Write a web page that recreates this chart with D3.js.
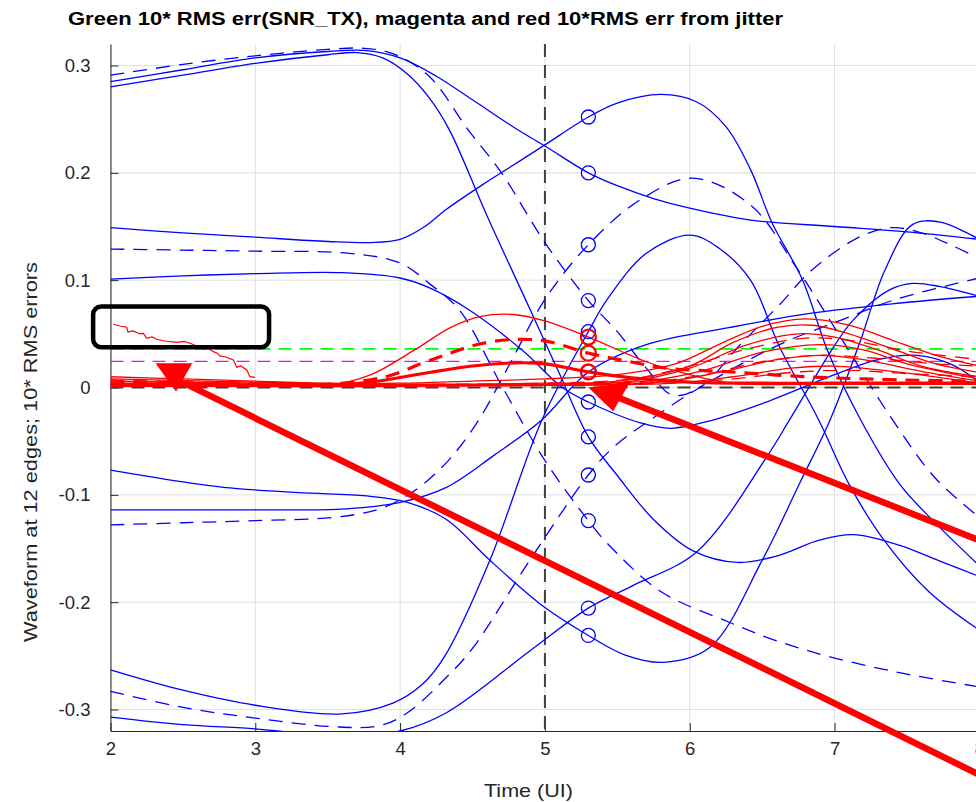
<!DOCTYPE html>
<html>
<head>
<meta charset="utf-8">
<script src="https://cdn.jsdelivr.net/npm/d3@7"></script>
<style>
  body { margin: 0; background: #fff; }
  svg { display: block; font-family: "Liberation Sans", Arial, sans-serif; }
</style>
</head>
<body>
<svg id="chart" width="976" height="802"></svg>
<script>
// ---- data ----
const xTicks = [2, 3, 4, 5, 6, 7, 8];
const yTicks = [-0.3, -0.2, -0.1, 0, 0.1, 0.2, 0.3];
const yTickLabels = ["-0.3", "-0.2", "-0.1", "0", "0.1", "0.2", "0.3"];
const sampleX = 5.3;     // circles sit here
const refX = 5;          // black dashed vertical
const greenLevel = 0.036;
const magentaLevel = 0.0244;

// 12 edges, blue. [time, value]
const edge01 = [[2,0.291],[2.5,0.301],[3,0.309],[3.5,0.315],[3.75,0.316],[3.95,0.311],[4.2,0.29],[4.47,0.24],[4.7,0.2],[5,0.135],[5.3,0.081],[5.5,0.052],[5.7,0.018],[5.88,-0.007],[6.07,0.0],[6.35,0.04],[6.64,0.08],[6.8,0.104],[7.0,0.126],[7.2,0.142],[7.4,0.149],[7.6,0.144],[7.8,0.133],[8,0.12]];
const edge02 = [[2,0.285],[2.5,0.296],[3,0.307],[3.5,0.313],[3.75,0.314],[4,0.307],[4.25,0.29],[4.5,0.268],[4.79,0.242],[5,0.225],[5.3,0.2],[5.5,0.188],[5.75,0.176],[6,0.167],[6.42,0.156],[7,0.15],[7.5,0.145],[8,0.138]];
const edge03 = [[2,0.28],[2.5,0.291],[3,0.302],[3.5,0.31],[3.7,0.312],[3.88,0.307],[4.05,0.292],[4.2,0.27],[4.34,0.24],[4.6,0.16],[4.9,0.072],[5.1,0.013],[5.3,-0.046],[5.5,-0.082],[5.75,-0.123],[6.02,-0.152],[6.33,-0.163],[6.6,-0.157],[6.9,-0.142],[7.13,-0.137],[7.45,-0.147],[7.75,-0.163],[8,-0.176]];
const edge04 = [[2,0.149],[2.5,0.144],[3,0.14],[3.5,0.136],[3.8,0.135],[4,0.138],[4.16,0.149],[4.32,0.166],[4.57,0.189],[4.78,0.207],[5,0.226],[5.3,0.252],[5.5,0.265],[5.8,0.273],[6.05,0.266],[6.25,0.243],[6.42,0.203],[6.57,0.153],[6.78,0.1],[6.95,0.035],[7.18,-0.03],[7.45,-0.09],[7.68,-0.124],[8,-0.166]];
const edge05 = [[2,0.129],[2.5,0.128],[3,0.127],[3.65,0.125],[4,0.116],[4.2,0.097],[4.41,0.072],[4.7,0.002],[5.0,-0.068],[5.3,-0.124],[5.43,-0.145],[5.8,-0.19],[6.26,-0.218],[6.6,-0.236],[7.0,-0.252],[7.5,-0.267],[8,-0.279]];
const edge06 = [[2,0.101],[2.5,0.104],[3,0.106],[3.6,0.107],[4,0.102],[4.2,0.093],[4.48,0.072],[4.85,0.034],[5.12,0.0],[5.3,-0.0135],[5.66,-0.033],[5.87,-0.038],[6.14,-0.031],[6.5,-0.015],[7.0,0.012],[7.3,0.026],[7.57,0.03],[7.8,0.022],[8,0.005]];
const edge07 = [[2,-0.077],[2.5,-0.088],[2.78,-0.093],[3.3,-0.098],[3.77,-0.101],[4.05,-0.107],[4.32,-0.123],[4.62,-0.161],[5,-0.205],[5.3,-0.231],[5.55,-0.249],[5.82,-0.256],[6.14,-0.242],[6.5,-0.161],[6.76,-0.089],[6.97,-0.03],[7.18,0.044],[7.35,0.11],[7.54,0.152],[7.73,0.154],[8,0.138]];
const edge08 = [[2,-0.114],[2.5,-0.114],[3,-0.114],[3.63,-0.113],[4,-0.107],[4.32,-0.093],[4.65,-0.063],[4.98,-0.03],[5.3,0.0145],[5.7,0.04],[6.28,0.056],[6.83,0.069],[7.4,0.078],[8,0.085]];
const edge09 = [[2,-0.128],[2.5,-0.126],[3,-0.124],[3.54,-0.121],[3.86,-0.113],[4.09,-0.097],[4.32,-0.07],[4.53,-0.033],[4.75,0.02],[5,0.082],[5.3,0.133],[5.66,0.175],[6.02,0.195],[6.42,0.17],[6.74,0.111],[7.05,0.045],[7.4,-0.03],[7.7,-0.085],[8,-0.121]];
const edge10 = [[2,-0.263],[2.5,-0.282],[3,-0.296],[3.6,-0.304],[3.95,-0.294],[4.15,-0.277],[4.31,-0.25],[4.62,-0.161],[4.98,-0.03],[5.3,0.052],[5.43,0.082],[5.7,0.125],[6.0,0.142],[6.2,0.13],[6.42,0.1],[6.62,0.038],[6.89,-0.03],[7.1,-0.09],[7.33,-0.14],[7.65,-0.19],[8,-0.226]];
const edge11 = [[2,-0.283],[2.5,-0.298],[3,-0.308],[3.54,-0.316],[3.86,-0.315],[4.05,-0.303],[4.32,-0.27],[4.5,-0.243],[4.9,-0.16],[5.3,-0.0815],[5.47,-0.056],[5.73,-0.03],[6.07,0.0],[6.62,0.04],[7.05,0.063],[7.42,0.082],[8,0.102]];
const edge12 = [[2,-0.307],[2.5,-0.314],[3,-0.318],[3.3,-0.322],[3.6,-0.325],[4,-0.32],[4.32,-0.303],[4.9,-0.245],[5.3,-0.2055],[5.6,-0.185],[6.05,-0.153],[6.53,-0.065],[6.69,-0.03],[6.99,0.037],[7.13,0.063],[7.38,0.091],[7.54,0.097],[7.73,0.094],[8,0.085]];
const dashedEdges = [edge01, edge05, edge09, edge11];
const solidEdges = [edge02, edge03, edge04, edge06, edge07, edge08, edge10, edge12];

// red: 10*RMS error from jitter
const jitterThick = [[2,0.003],[3,0.002],[3.5,0.002],[3.8,0.005],[4.2,0.014],[4.5,0.02],[4.8,0.023],[5.0,0.022],[5.3,0.0145],[5.6,0.009],[6,0.005],[6.5,0.004],[7,0.004],[7.5,0.004],[8,0.004]];
const jitterThickDash = [[2,0.003],[3,0.003],[3.5,0.003],[3.9,0.01],[4.2,0.025],[4.6,0.042],[4.97,0.044],[5.3,0.032],[5.59,0.024],[5.84,0.018],[6.28,0.0145],[6.8,0.01],[7.5,0.007],[8,0.006]];
const jitterTop = [[2,0.006],[3,0.003],[3.5,0.002],[3.8,0.012],[4.1,0.035],[4.35,0.056],[4.55,0.066],[4.78,0.068],[5.0,0.062],[5.3,0.047],[5.7,0.024],[5.93,0.0145],[6.28,0.004],[6.8,0.003],[8,0.003]];
const jitterA = [[2,0.010],[2.5,0.008],[3,0.006],[3.5,0.004],[4,0.004],[4.5,0.006],[5,0.008],[5.5,0.012],[5.9,0.022],[6.2,0.04],[6.5,0.057],[6.8,0.064],[7.1,0.058],[7.4,0.044],[7.7,0.03],[8,0.02]];
const jitterB = [[2,0.008],[3,0.005],[4,0.003],[5,0.004],[5.5,0.006],[6,0.02],[6.3,0.042],[6.6,0.056],[6.85,0.058],[7.1,0.05],[7.4,0.036],[7.7,0.022],[8,0.014]];
const jitterC = [[2,0.006],[3,0.004],[4,0.003],[5,0.003],[5.6,0.006],[6.0,0.018],[6.4,0.04],[6.75,0.05],[7.0,0.047],[7.3,0.035],[7.6,0.02],[8,0.01]];
const jitterD = [[2,0.004],[3,0.003],[4,0.002],[5,0.003],[5.7,0.006],[6.1,0.016],[6.5,0.033],[6.9,0.04],[7.2,0.035],[7.5,0.022],[8,0.008]];
const jitterE = [[2,0.002],[3,0.002],[4,0.002],[5,0.002],[5.8,0.005],[6.2,0.014],[6.6,0.026],[6.9,0.03],[7.2,0.026],[7.6,0.015],[8,0.006]];
const jitterF = [[2,0.001],[3,0.001],[4,0.001],[5,0.002],[5.9,0.004],[6.3,0.01],[6.7,0.018],[7.0,0.02],[7.4,0.015],[8,0.004]];
const jitterDashA = [[2,0.007],[3,0.004],[4,0.003],[5,0.004],[5.6,0.008],[6.0,0.02],[6.4,0.036],[6.8,0.046],[7.1,0.044],[7.5,0.034],[8,0.026]];
const jitterDashB = [[2,0.005],[3,0.003],[4,0.002],[5,0.003],[5.7,0.005],[6.1,0.012],[6.5,0.024],[6.9,0.03],[7.3,0.027],[7.7,0.022],[8,0.02]];
const jitterDashC = [[2,0.003],[3,0.002],[4,0.002],[5,0.002],[5.8,0.004],[6.3,0.008],[6.7,0.014],[7.1,0.016],[7.5,0.013],[8,0.01]];
const jitterSolid = [jitterA, jitterB, jitterC, jitterD, jitterE, jitterF, jitterTop];
const jitterDashed = [jitterDashA, jitterDashB, jitterDashC];
// noisy estimate at the start
const jitterNoisy = [[2.019,0.0589],[2.066,0.0573],[2.112,0.0561],[2.121,0.0517],[2.155,0.0527],[2.204,0.0499],[2.227,0.0505],[2.25,0.0459],[2.287,0.0471],[2.319,0.0449],[2.376,0.0433],[2.457,0.0421],[2.508,0.0429],[2.549,0.0412],[2.597,0.0387],[2.641,0.0356],[2.673,0.0368],[2.71,0.0334],[2.735,0.0322],[2.756,0.0294],[2.798,0.0284],[2.848,0.0256],[2.872,0.0188],[2.901,0.02],[2.941,0.0163],[2.963,0.0101],[2.998,0.0095]];

// annotations, in data units
const boxCorners = [[1.88, 0.0755], [3.095, 0.0375]];
const arrow1Shaft = [[2.51, 0.004], [8.2, -0.374]];
const arrow1Head = [[2.321, 0.0219], [2.556, 0.0219], [2.452, -0.0025]];
const arrow2Shaft = [[5.5, -0.009], [8.2, -0.153]];
const arrow2Head = [[5.311, -0.0005], [5.574, 0.0033], [5.47, -0.021]];

// ---- chart ----
const svg = d3.select("#chart");
const x = d3.scaleLinear().domain([2, 8.2]).range([110.5, 1008.3]);
const y = d3.scaleLinear().domain([-0.32, 0.32]).range([731, 44]);
const plotTop = y.range()[1], plotBottom = y.range()[0];

svg.append("defs").append("clipPath").attr("id", "plotclip")
  .append("rect").attr("x", x(2)).attr("y", plotTop).attr("width", 1000).attr("height", plotBottom - plotTop);

// grid
const grid = svg.append("g").attr("stroke", "#e0e0e0").attr("stroke-width", 1);
grid.selectAll(".gx").data(xTicks).join("line")
  .attr("x1", d => x(d)).attr("x2", d => x(d)).attr("y1", plotTop).attr("y2", plotBottom);
grid.selectAll(".gy").data(yTicks).join("line")
  .attr("x1", x(2)).attr("x2", 1000).attr("y1", d => y(d)).attr("y2", d => y(d));

// axes
const yAxis = d3.axisLeft(y).tickValues(yTicks).tickFormat((d, i) => yTickLabels[i])
  .tickSizeInner(-8).tickSizeOuter(0).tickPadding(20);
const xAxis = d3.axisBottom(x).tickValues(xTicks).tickFormat(d3.format("d"))
  .tickSizeInner(-8).tickSizeOuter(0).tickPadding(11);
const gy = svg.append("g").attr("transform", `translate(${x(2)},0)`).call(yAxis);
const gx = svg.append("g").attr("transform", `translate(0,${plotBottom})`).call(xAxis);
[gx, gy].forEach(g => {
  g.selectAll("path,line").attr("stroke", "#262626");
  g.selectAll("text").attr("fill", "#262626").attr("font-size", 18.5);
  g.attr("font-family", null);
});

const plot = svg.append("g").attr("clip-path", "url(#plotclip)");
const line = d3.line().x(d => x(d[0])).y(d => y(d[1])).curve(d3.curveCatmullRom.alpha(0.5));
const rawLine = d3.line().x(d => x(d[0])).y(d => y(d[1]));

// reference dashed lines
plot.append("line").attr("x1", x(refX)).attr("x2", x(refX)).attr("y1", plotTop).attr("y2", plotBottom)
  .attr("stroke", "#404040").attr("stroke-width", 2).attr("stroke-dasharray", "13,8");
plot.append("line").attr("x1", x(2)).attr("x2", 1000).attr("y1", y(0)).attr("y2", y(0))
  .attr("stroke", "#404040").attr("stroke-width", 2).attr("stroke-dasharray", "13,8");
plot.append("line").attr("x1", x(2)).attr("x2", 1000).attr("y1", y(greenLevel)).attr("y2", y(greenLevel))
  .attr("stroke", "#00ff00").attr("stroke-width", 1.6).attr("stroke-dasharray", "13,8");
plot.append("line").attr("x1", x(2)).attr("x2", 1000).attr("y1", y(magentaLevel)).attr("y2", y(magentaLevel))
  .attr("stroke", "#ff00ff").attr("stroke-width", 1.3).attr("stroke-dasharray", "13,8");

// blue edges
plot.selectAll(".edge-solid").data(solidEdges).join("path")
  .attr("d", line).attr("fill", "none").attr("stroke", "#0000ff").attr("stroke-width", 1.3);
plot.selectAll(".edge-dash").data(dashedEdges).join("path")
  .attr("d", line).attr("fill", "none").attr("stroke", "#0000ff").attr("stroke-width", 1.3)
  .attr("stroke-dasharray", "14,9");

// red jitter errors
plot.selectAll(".jit").data(jitterSolid).join("path")
  .attr("d", line).attr("fill", "none").attr("stroke", "#ff0000").attr("stroke-width", 1.3);
plot.selectAll(".jitd").data(jitterDashed).join("path")
  .attr("d", line).attr("fill", "none").attr("stroke", "#ff0000").attr("stroke-width", 1.3)
  .attr("stroke-dasharray", "14,9");
plot.append("path").attr("d", rawLine(jitterNoisy)).attr("fill", "none")
  .attr("stroke", "#ff0000").attr("stroke-width", 1.2);
plot.append("path").attr("d", line(jitterThick)).attr("fill", "none")
  .attr("stroke", "#ff0000").attr("stroke-width", 3.2);
plot.append("path").attr("d", line(jitterThickDash)).attr("fill", "none")
  .attr("stroke", "#ff0000").attr("stroke-width", 3.2).attr("stroke-dasharray", "14,9");

// sample markers at 5.3
const atSample = s => s.find(d => d[0] === sampleX);
plot.selectAll(".bc").data(dashedEdges.concat(solidEdges).map(atSample)).join("circle")
  .attr("cx", d => x(d[0])).attr("cy", d => y(d[1])).attr("r", 7)
  .attr("fill", "none").attr("stroke", "#0000ff").attr("stroke-width", 1.3);
plot.selectAll(".rc").data([jitterThick, jitterThickDash, jitterTop].map(atSample)).join("circle")
  .attr("cx", d => x(d[0])).attr("cy", d => y(d[1])).attr("r", 7.5)
  .attr("fill", "none").attr("stroke", "#ff0000").attr("stroke-width", 2.2);

// annotations
svg.append("rect")
  .attr("x", x(boxCorners[0][0])).attr("y", y(boxCorners[0][1]))
  .attr("width", x(boxCorners[1][0]) - x(boxCorners[0][0]))
  .attr("height", y(boxCorners[1][1]) - y(boxCorners[0][1]))
  .attr("rx", 8).attr("fill", "none").attr("stroke", "#000").attr("stroke-width", 4.5);
[[arrow1Shaft, arrow1Head], [arrow2Shaft, arrow2Head]].forEach(([shaft, head]) => {
  svg.append("path").attr("d", rawLine(shaft)).attr("stroke", "#ff0000").attr("stroke-width", 6.5).attr("fill", "none");
  svg.append("path").attr("d", rawLine(head) + "Z").attr("fill", "#ff0000").attr("stroke", "#ff0000").attr("stroke-width", 1.5);
});

// labels
svg.append("text").attr("x", 425.5).attr("y", 25).attr("text-anchor", "middle")
  .attr("font-weight", "bold").attr("font-size", 18).attr("fill", "#000")
  .attr("textLength", 715).attr("lengthAdjust", "spacingAndGlyphs")
  .text("Green 10* RMS err(SNR_TX), magenta and red 10*RMS err from jitter");
svg.append("text").attr("x", 528.5).attr("y", 797).attr("text-anchor", "middle")
  .attr("font-size", 19).attr("fill", "#262626")
  .attr("textLength", 89).attr("lengthAdjust", "spacingAndGlyphs").text("Time (UI)");
svg.append("text").attr("transform", "translate(37,452) rotate(-90)").attr("text-anchor", "middle")
  .attr("font-size", 19).attr("fill", "#262626")
  .attr("textLength", 380).attr("lengthAdjust", "spacingAndGlyphs")
  .text("Waveform at 12 edges; 10* RMS errors");
</script>
</body>
</html>
